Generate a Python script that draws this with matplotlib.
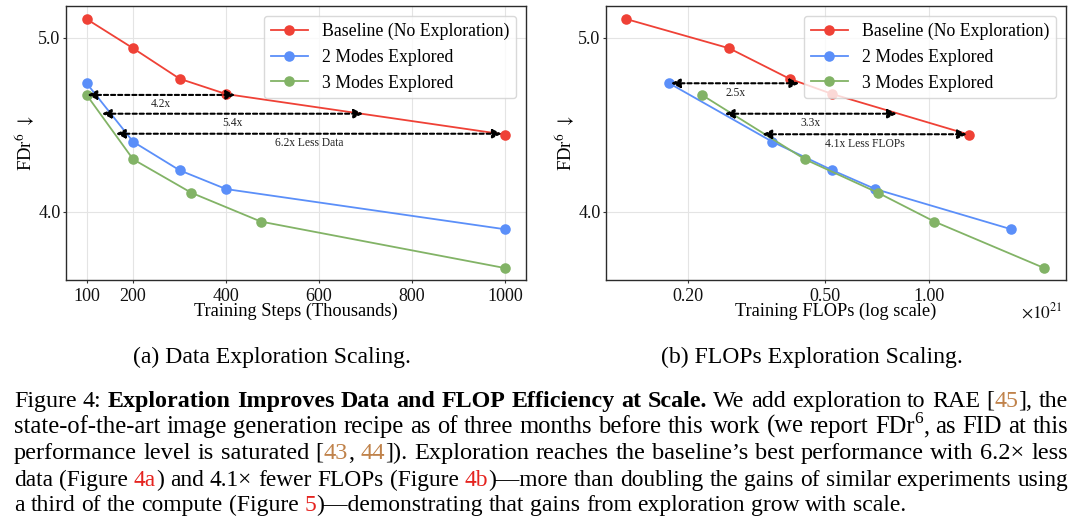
import matplotlib
matplotlib.use('Agg')
import matplotlib.pyplot as plt
from matplotlib.ticker import FixedLocator, FixedFormatter, NullLocator

plt.rcParams['font.family'] = ['Liberation Serif', 'DejaVu Serif']
plt.rcParams['mathtext.fontset'] = 'stix'

# ---------------- data ----------------
series_labels = ['Baseline (No Exploration)', '2 Modes Explored', '3 Modes Explored']
steps_base = [100, 200, 300, 400, 1000]
steps_2modes = [100, 200, 300, 400, 1000]
steps_3modes = [100, 200, 325, 475, 1000]
flops_base = [0.132, 0.263, 0.394, 0.525, 1.31]      # x 10^21
flops_2modes = [0.176, 0.351, 0.525, 0.70, 1.74]
flops_3modes = [0.219, 0.437, 0.712, 1.04, 2.17]
fdr_base = [5.107, 4.939, 4.764, 4.676, 4.443]
fdr_2modes = [4.738, 4.402, 4.238, 4.130, 3.899]
fdr_3modes = [4.671, 4.301, 4.109, 3.943, 3.676]

data_gap_y = [4.671, 4.563, 4.448]
data_gap_from = [101.7, 132.8, 163.0]
data_gap_to = [419.5, 694.6, 993.0]
data_gap_labels = ['4.2x', '5.4x', '6.2x Less Data']

flops_gap_y = [4.738, 4.563, 4.445]
flops_gap_from = [0.178, 0.2553, 0.3284]
flops_gap_to = [0.4205, 0.8087, 1.292]
flops_gap_labels = ['2.5x', '3.3x', '4.1x Less FLOPs']

data_ticks = [100, 200, 400, 600, 800, 1000]
flops_ticks = [0.2, 0.5, 1.0]
flops_tick_labels = ['0.20', '0.50', '1.00']
fdr_ticks = [4.0, 5.0]
fdr_tick_labels = ['4.0', '5.0']

xlabels = ['Training Steps (Thousands)', 'Training FLOPs (log scale)']
ylabel = r'FDr$^6$ $\downarrow$'
subcaptions = ['(a) Data Exploration Scaling.', '(b) FLOPs Exploration Scaling.']

caption_lines = [
    [("Figure 4: ", 'n'), ("Exploration Improves Data and FLOP Efficiency at Scale.", 'b'),
     (" We add exploration to RAE [", 'n'), ("45", 'c'), ("], the", 'n')],
    [("state-of-the-art image generation recipe as of three months before this work (we report FDr", 'n'),
     ("6", 's'), (", as FID at this", 'n')],
    [("performance level is saturated [", 'n'), ("43", 'c'), (", ", 'n'), ("44", 'c'),
     ("]). Exploration reaches the baseline\u2019s best performance with 6.2\u00d7 less", 'n')],
    [("data (Figure ", 'n'), ("4a", 'r'), (") and 4.1\u00d7 fewer FLOPs (Figure ", 'n'), ("4b", 'r'),
     (")\u2014more than doubling the gains of similar experiments using", 'n')],
    [("a third of the compute (Figure ", 'n'), ("5", 'r'),
     (")\u2014demonstrating that gains from exploration grow with scale.", 'n')],
]

colors = ['#EF4136', '#5B8FF9', '#82B366']

# ---------------- figure ----------------
W, H = 1080, 526
fig = plt.figure(figsize=(W / 100, H / 100), dpi=100)
ax1 = fig.add_axes([65.7 / W, 1 - 280 / H, 460.3 / W, 274 / H])
ax2 = fig.add_axes([605.7 / W, 1 - 280 / H, 460.3 / W, 274 / H])


def style_axes(ax):
    ax.grid(True, color='#e4e4e4', lw=0.8)
    ax.set_axisbelow(True)
    for sp in ax.spines.values():
        sp.set_color('#2b2b2b')
        sp.set_linewidth(1.0)
    ax.tick_params(axis='both', labelsize=13, length=2.5, width=0.8,
                   color='#333333', labelcolor='#111111')
    ax.tick_params(axis='y', pad=1.2)
    ax.tick_params(axis='x', pad=3.0)
    ax.set_yticks(fdr_ticks)
    ax.set_yticklabels(fdr_tick_labels)
    ax.set_ylim(3.6075, 5.182)
    ax.set_ylabel(ylabel, fontsize=13.5, va='center')
    ax.yaxis.set_label_coords(-40.7 / 460.3, 0.5)


def draw_series(ax, xs_all):
    for xs, ys, c, lab in zip(xs_all, [fdr_base, fdr_2modes, fdr_3modes], colors, series_labels):
        ax.plot(xs, ys, '-o', color=c, lw=1.3, ms=7.6, mew=0, label=lab, zorder=3)


def draw_gaps(ax, ys, frs, tos, labels, log=False):
    for y, a, b, lab in zip(ys, frs, tos, labels):
        ax.annotate('', xy=(b, y), xytext=(a, y),
                    arrowprops=dict(arrowstyle='<|-|>,head_length=0.45,head_width=0.22',
                                    color='black', lw=1.5, linestyle=(0, (2.0, 1.4)),
                                    shrinkA=0, shrinkB=0, mutation_scale=12),
                    zorder=4)
        mid = (a * b) ** 0.5 if log else (a + b) / 2
        ax.annotate(lab, xy=(mid, y), xytext=(0, -9.5), textcoords='offset pixels',
                    ha='center', va='center', fontsize=8.3, color='#222222', zorder=4)


# left panel
style_axes(ax1)
draw_series(ax1, [steps_base, steps_2modes, steps_3modes])
draw_gaps(ax1, data_gap_y, data_gap_from, data_gap_to, data_gap_labels)
ax1.set_xlim(55, 1045)
ax1.set_xticks(data_ticks)
ax1.set_xticklabels([str(t) for t in data_ticks])
ax1.set_xlabel(xlabels[0], fontsize=13.2, va='center')
ax1.xaxis.set_label_coords(0.5, -31.7 / 274)

# right panel
style_axes(ax2)
ax2.set_xscale('log')
draw_series(ax2, [flops_base, flops_2modes, flops_3modes])
draw_gaps(ax2, flops_gap_y, flops_gap_from, flops_gap_to, flops_gap_labels, log=True)
ax2.set_xlim(0.115, 2.51)
ax2.xaxis.set_major_locator(FixedLocator(flops_ticks))
ax2.xaxis.set_major_formatter(FixedFormatter(flops_tick_labels))
ax2.xaxis.set_minor_locator(NullLocator())
ax2.set_xlabel(xlabels[1], fontsize=13.2, va='center')
ax2.xaxis.set_label_coords(0.5, -31.7 / 274)
ax2.text(0.9935, -32 / 274, r'$\times10^{21}$', transform=ax2.transAxes,
         ha='right', va='center', fontsize=12.5, color='#111111')

for ax in (ax1, ax2):
    leg = ax.legend(loc='upper right', fontsize=12.8, framealpha=0.8, edgecolor='#d0d0d0',
                    handlelength=2.1, handletextpad=0.8, labelspacing=0.5,
                    borderpad=0.38, borderaxespad=0.55)
    leg.set_zorder(10)

# ---------------- captions ----------------
fig.text(272.4 / W, 1 - 363 / H, subcaptions[0], ha='center', va='baseline', fontsize=17.1)
fig.text(811.6 / W, 1 - 363 / H, subcaptions[1], ha='center', va='baseline', fontsize=17.1)

renderer = fig.canvas.get_renderer()
seg_colors = {'n': 'black', 'b': 'black', 'c': '#C0824A', 'r': '#E5231F', 's': 'black'}


def seg_props(st, size):
    fs = size * 0.7 if st == 's' else size
    fw = 'bold' if st == 'b' else 'normal'
    return fs, fw


def seg_width(text, st, size):
    fs, fw = seg_props(st, size)
    t = fig.text(0, 0, text, fontsize=fs, fontweight=fw)
    w = t.get_window_extent(renderer=renderer).width
    t.remove()
    return w


def words_of(chunks):
    words = [[]]
    for text, st in chunks:
        parts = text.split(' ')
        for i, p in enumerate(parts):
            if i > 0:
                words.append([])
            if p:
                words[-1].append((p, st))
    return [w for w in words if w]


def space_px(size):
    return 0.25 * size * 100 / 72


def natural_width(chunks, size):
    ws = words_of(chunks)
    return sum(seg_width(t, s, size) for w in ws for t, s in w) + (len(ws) - 1) * space_px(size)


x_left, x_right = 14.0, 1068.0
ref_size = 10.0
# base size: last (natural) line ends near x = 908 like the reference
base_size = ref_size * (908.0 - x_left) / natural_width(caption_lines[-1], ref_size)

baselines = [407, 433, 459, 486, 511]
for li, (chunks, base) in enumerate(zip(caption_lines, baselines)):
    justified = li < len(caption_lines) - 1
    size = base_size
    if justified:
        # emulate slight glyph expansion of justified lines
        nat = natural_width(chunks, base_size)
        size = base_size * min(1.07, max(0.97, (x_right - x_left - 8.0) / nat))
    words = words_of(chunks)
    widths = [[seg_width(t, s, size) for t, s in w] for w in words]
    total = sum(sum(ws) for ws in widths)
    if justified and len(words) > 1:
        gap = (x_right - x_left - total) / (len(words) - 1)
    else:
        gap = space_px(size)
    x = x_left
    for w, ws in zip(words, widths):
        for (t, s), sw in zip(w, ws):
            fs, fw = seg_props(s, size)
            yy = base - (0.4 * size * 100 / 72 if s == 's' else 0)
            fig.text(x / W, 1 - yy / H, t, fontsize=fs, fontweight=fw, color=seg_colors[s],
                     ha='left', va='baseline')
            x += sw
        x += gap

fig.savefig('out.png', dpi=100)
